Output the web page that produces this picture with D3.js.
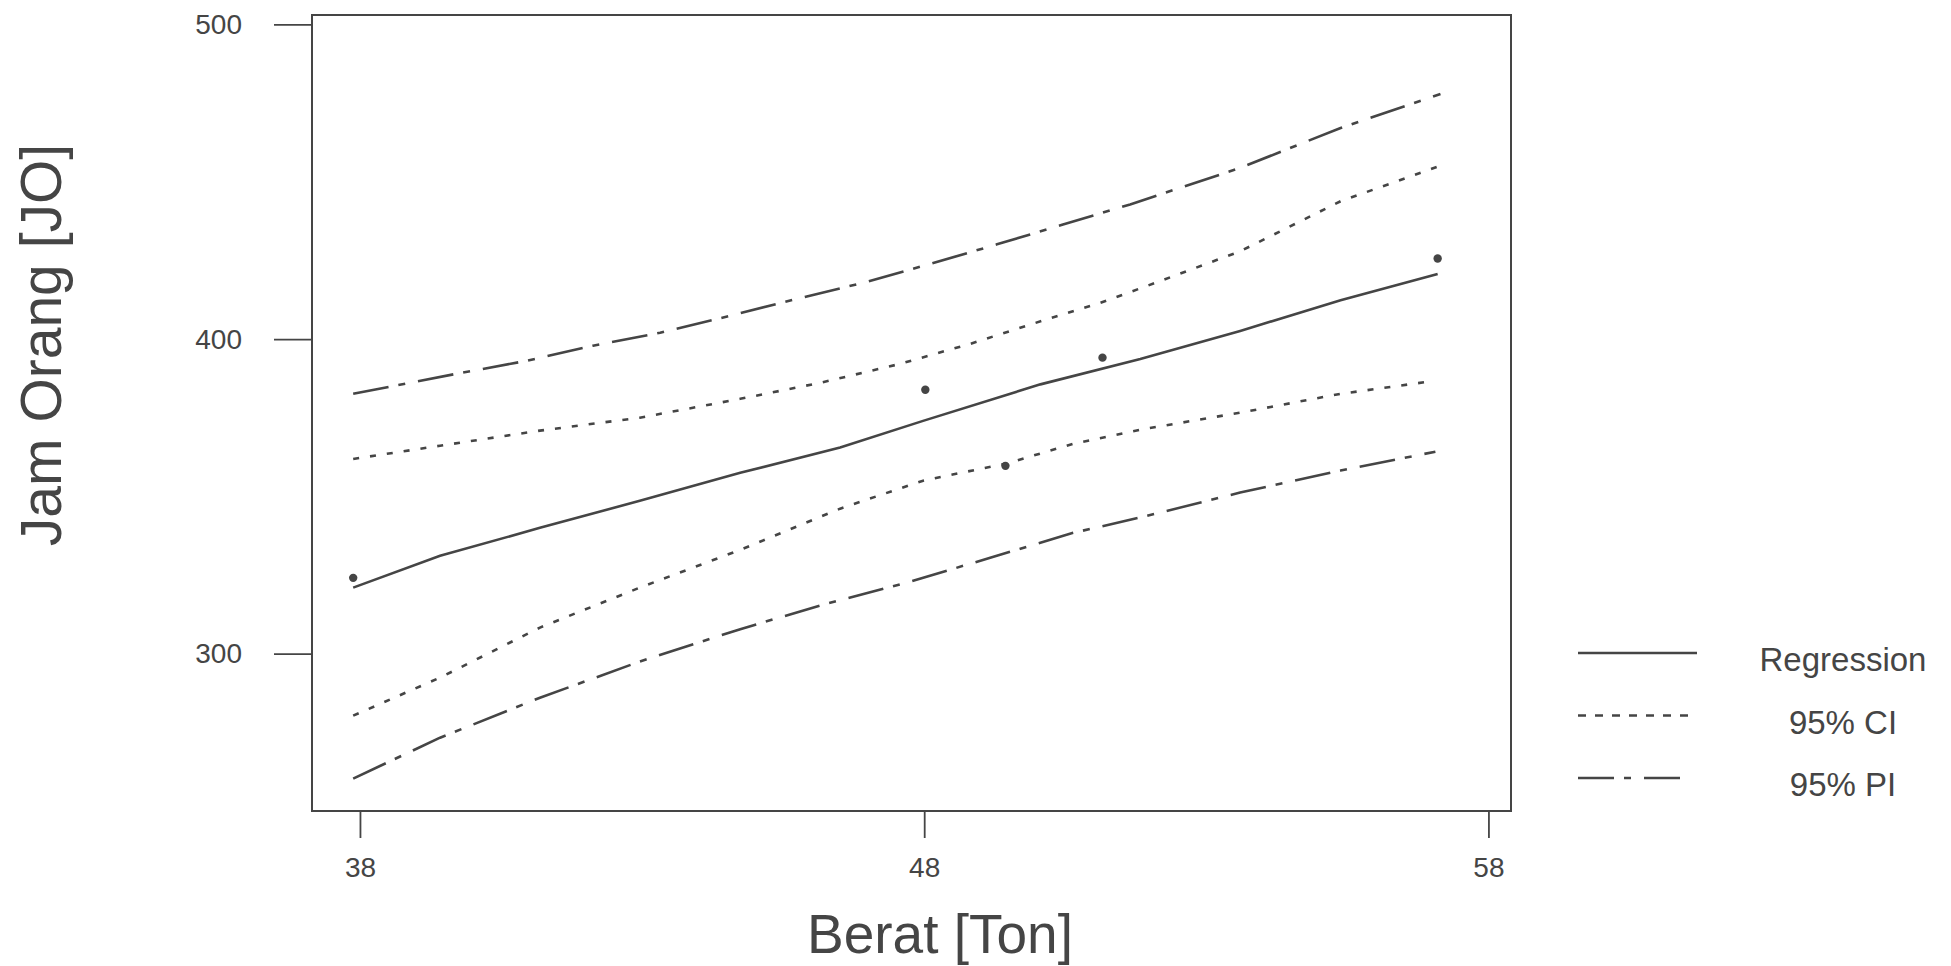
<!DOCTYPE html>
<html>
<head>
<meta charset="utf-8">
<script src="https://cdn.jsdelivr.net/npm/d3@7"></script>
<style>
  body { margin: 0; background: #fff; }
  svg { display: block; font-family: "Liberation Sans", Arial, sans-serif; }
</style>
</head>
<body>
<div id="chart"></div>
<script>
const W = 1951;
const H = 966;
const MARGIN = { TOP: 15, LEFT: 312, WIDTH: 1199, HEIGHT: 796 };
const INK = "#454545";

// observed data (Berat, Jam Orang)
const pointX = [37.88, 48.02, 49.44, 51.16, 57.1];
const pointY = [324.1, 383.9, 359.7, 394.1, 425.6];

// fitted line and bands as [Berat, JO]
const regression = [
  [37.88, 321.0], [39.42, 331.1], [41.19, 340.0], [42.96, 348.6], [44.74, 357.5],
  [46.51, 365.5], [47.98, 374.0], [50.06, 385.6], [51.83, 393.7],
  [53.6, 402.6], [55.38, 412.3], [57.1, 420.7],
];
const ciUpper = [
  [37.88, 361.9], [39.42, 366.1], [41.19, 370.9], [42.96, 375.0], [44.74, 381.0],
  [46.16, 386.1], [47.57, 392.1], [48.82, 398.5], [49.93, 404.9], [51.12, 411.5],
  [51.95, 416.9], [53.6, 427.9], [55.38, 443.8], [57.15, 455.1],
];
const ciLower = [
  [37.88, 280.3], [39.42, 292.4], [41.19, 308.3], [42.96, 321.0], [44.74, 333.0],
  [46.51, 346.1], [47.98, 355.0], [49.47, 360.5], [50.64, 366.7], [51.83, 371.2],
  [53.6, 376.6], [55.38, 382.6], [56.92, 386.4],
];
const piUpper = [
  [37.88, 382.6], [39.72, 389.0], [40.96, 393.1], [42.13, 397.9], [43.32, 402.0],
  [44.56, 407.4], [45.75, 412.8], [46.92, 417.9], [48.11, 423.9], [49.29, 430.1],
  [50.46, 436.4], [51.65, 442.8], [53.6, 454.4], [55.38, 467.1], [57.15, 477.9],
];
const piLower = [
  [37.88, 260.3], [39.42, 273.3], [41.19, 286.0], [42.96, 297.5], [44.74, 307.8],
  [46.21, 315.6], [47.7, 322.6], [49.17, 330.5], [50.64, 338.4], [51.83, 343.3],
  [53.6, 351.2], [55.38, 358.2], [57.06, 364.2],
];

const xTicks = [38, 48, 58];
const yTicks = [300, 400, 500];
const legendLabels = ["Regression", "95% CI", "95% PI"];
const DASH = { solid: null, ci: "6,11", pi: "36,10,7,13" };

const svg = d3.select("#chart").append("svg")
  .attr("width", W)
  .attr("height", H);

const x = d3.scaleLinear().domain([37.15, 58.4]).range([MARGIN.LEFT, MARGIN.LEFT + MARGIN.WIDTH]);
const y = d3.scaleLinear().domain([250, 503]).range([MARGIN.TOP + MARGIN.HEIGHT, MARGIN.TOP]);

// frame
svg.append("rect")
  .attr("x", MARGIN.LEFT)
  .attr("y", MARGIN.TOP)
  .attr("width", MARGIN.WIDTH)
  .attr("height", MARGIN.HEIGHT)
  .attr("fill", "none")
  .attr("stroke", INK)
  .attr("stroke-width", 2);

// axes
const xAxis = svg.append("g")
  .attr("transform", `translate(0, ${MARGIN.TOP + MARGIN.HEIGHT})`)
  .call(d3.axisBottom(x).tickValues(xTicks).tickSize(27).tickPadding(19).tickSizeOuter(0));
const yAxis = svg.append("g")
  .attr("transform", `translate(${MARGIN.LEFT}, 0)`)
  .call(d3.axisLeft(y).tickValues(yTicks).tickSize(38).tickPadding(32).tickSizeOuter(0));

[xAxis, yAxis].forEach((g) => {
  g.select(".domain").remove();
  g.selectAll(".tick line").attr("stroke", INK).attr("stroke-width", 1.8);
  g.selectAll(".tick text")
    .attr("fill", INK)
    .style("font-size", "28px")
    .style("font-family", "'Liberation Sans', Arial, sans-serif");
});

// axis titles
svg.append("text")
  .attr("x", 940)
  .attr("y", 953)
  .attr("text-anchor", "middle")
  .attr("fill", INK)
  .style("font-size", "55px")
  .text("Berat [Ton]");

svg.append("text")
  .attr("transform", "translate(61, 345) rotate(-90)")
  .attr("text-anchor", "middle")
  .attr("fill", INK)
  .style("font-size", "57px")
  .text("Jam Orang [JO]");

// lines
const line = d3.line().x((d) => x(d[0])).y((d) => y(d[1]));
const series = [
  { data: regression, dash: DASH.solid },
  { data: ciUpper, dash: DASH.ci },
  { data: ciLower, dash: DASH.ci },
  { data: piUpper, dash: DASH.pi },
  { data: piLower, dash: DASH.pi },
];
svg.append("g")
  .selectAll("path")
  .data(series)
  .join("path")
  .attr("d", (d) => line(d.data))
  .attr("fill", "none")
  .attr("stroke", INK)
  .attr("stroke-width", 2.6)
  .attr("stroke-dasharray", (d) => d.dash);

// observed points
svg.append("g")
  .selectAll("circle")
  .data(d3.zip(pointX, pointY))
  .join("circle")
  .attr("cx", (d) => x(d[0]))
  .attr("cy", (d) => y(d[1]))
  .attr("r", 4.2)
  .attr("fill", INK);

// legend
const legendDash = [DASH.solid, "8,9", DASH.pi];
const legendEnd = [1697, 1688, 1685];
const legend = svg.append("g")
  .selectAll("g")
  .data(legendLabels)
  .join("g")
  .attr("transform", (d, i) => `translate(0, ${653 + i * 62.5})`);

legend.append("line")
  .attr("x1", 1578)
  .attr("x2", (d, i) => legendEnd[i])
  .attr("stroke", INK)
  .attr("stroke-width", 2.6)
  .attr("stroke-dasharray", (d, i) => legendDash[i]);

legend.append("text")
  .attr("x", 1843)
  .attr("y", 18)
  .attr("text-anchor", "middle")
  .attr("fill", INK)
  .style("font-size", "33px")
  .text((d) => d);
</script>
</body>
</html>
